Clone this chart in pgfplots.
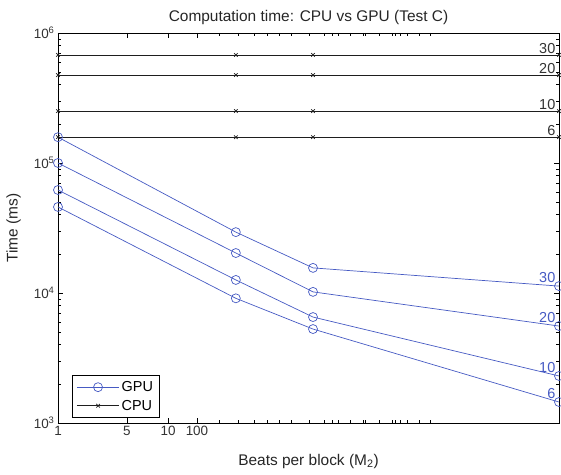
\documentclass[border=0pt]{standalone}
\usepackage{fontspec}
\setmainfont{Liberation Sans}
\usepackage{pgfplots}
\pgfplotsset{compat=1.18}
\definecolor{gpublue}{RGB}{70,90,195}
\definecolor{cpublack}{RGB}{30,30,30}
\begin{document}
\begin{tikzpicture}
\begin{axis}[
  name=ax,
  scale only axis,
  width=501bp, height=390bp,
  ymode=log,
  xmin=0, xmax=1,
  ymin=1000, ymax=1000000,
  axis line style={black, line width=0.8bp},
  tick align=inside,
  tick style={black, line width=0.6bp},
  xtick={0,0.1377,0.2196,0.2774},
  xticklabels={1,5,10,100},
  minor xtick={0.3214,0.3593,0.3912,0.4172,0.4411,0.4651,0.5010,0.5309,0.5469,0.5589,0.5828,0.6088,0.6128,0.6407,0.6667,0.6727,0.6826,0.6966,0.7206,0.7425},
  ytick={1000,10000,100000,1000000},
  yticklabels={10\textsuperscript{3},10\textsuperscript{4},10\textsuperscript{5},10\textsuperscript{6}},
  major tick length=5bp,
  minor tick length=3bp,
  ticklabel style={font=\fontsize{13.5}{15}\selectfont, text=black!80},
  title={Computation time: CPU vs GPU (Test C)},
  title style={font=\fontsize{15.5}{17}\selectfont, text=black!85, yshift=-1bp},
  xlabel={Beats per block (M\textsubscript{2})},
  ylabel={Time (ms)},
  label style={font=\fontsize{15.5}{17}\selectfont, text=black!85},
  xlabel style={yshift=-11bp},
  ylabel style={yshift=6bp},
  legend style={at={(0.028,0.013)}, anchor=south west, draw=black, line width=0.8bp, font=\fontsize{14.5}{16}\selectfont, row sep=3bp, inner xsep=4bp, inner ysep=4bp},
  legend cell align=left,
  legend image code/.code={\draw[mark repeat=2,mark phase=2] plot coordinates {(0cm,0cm) (0.75cm,0cm) (1.5cm,0cm)};},
  clip=false,
]
% GPU series
\addplot[gpublue, line width=0.7bp, mark=o, mark size=4.5bp, mark options={solid}] coordinates {(0,158000) (0.355,29400) (0.509,15600) (1,11300)};
\addlegendentry{GPU}
\addplot[cpublack, line width=0.7bp, mark=x, mark size=2.5bp] coordinates {(0,678000) (0.355,678000) (0.509,678000) (1,678000)};
\addlegendentry{CPU}
\addplot[gpublue, line width=0.7bp, mark=o, mark size=4.5bp, forget plot] coordinates {(0,100000) (0.355,20300) (0.509,10200) (1,5570)};
\addplot[gpublue, line width=0.7bp, mark=o, mark size=4.5bp, forget plot] coordinates {(0,62000) (0.355,12600) (0.509,6530) (1,2300)};
\addplot[gpublue, line width=0.7bp, mark=o, mark size=4.5bp, forget plot] coordinates {(0,45900) (0.355,9100) (0.509,5280) (1,1450)};
\addplot[cpublack, line width=0.7bp, mark=x, mark size=2.5bp, forget plot] coordinates {(0,475000) (0.355,475000) (0.509,475000) (1,475000)};
\addplot[cpublack, line width=0.7bp, mark=x, mark size=2.5bp, forget plot] coordinates {(0,251000) (0.355,251000) (0.509,251000) (1,251000)};
\addplot[cpublack, line width=0.7bp, mark=x, mark size=2.5bp, forget plot] coordinates {(0,158000) (0.355,158000) (0.509,158000) (1,158000)};
% labels
\begin{scope}[every node/.style={font=\fontsize{14.5}{16}\selectfont, anchor=south east, inner sep=1bp}]
\node[text=black!80] at (axis cs:0.995,678000) {30};
\node[text=black!80] at (axis cs:0.995,475000) {20};
\node[text=black!80] at (axis cs:0.995,251000) {10};
\node[text=black!80] at (axis cs:0.995,158000) {6};
\node[text=gpublue] at (axis cs:0.995,11700) {30};
\node[text=gpublue] at (axis cs:0.995,5800) {20};
\node[text=gpublue] at (axis cs:0.995,2400) {10};
\node[text=gpublue] at (axis cs:0.995,1520) {6};
\end{scope}
\end{axis}
\pgfresetboundingbox
\path ([xshift=-58bp,yshift=-52bp]ax.south west) rectangle ([xshift=2bp,yshift=33bp]ax.north east);
\end{tikzpicture}
\end{document}
